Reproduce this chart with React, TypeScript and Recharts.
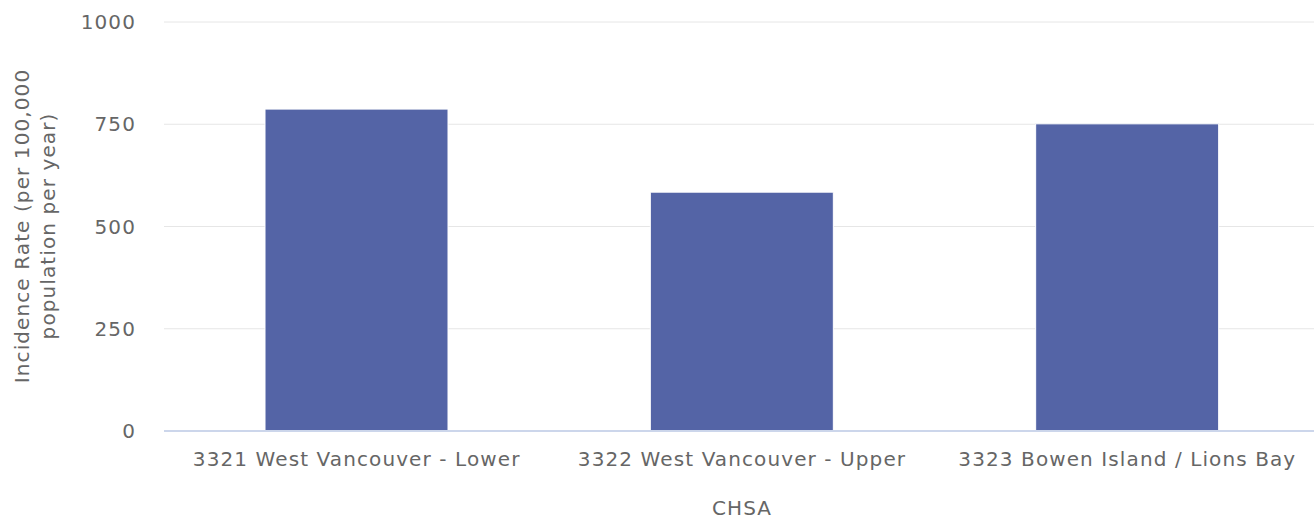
import { BarChart, Bar, XAxis, YAxis, CartesianGrid, Label } from "recharts";

const categories = [
  "3321 West Vancouver - Lower",
  "3322 West Vancouver - Upper",
  "3323 Bowen Island / Lions Bay",
];
const incidenceRates = [787, 584, 751];
const yTicks = [0, 250, 500, 750, 1000];

const chartData = categories.map((name, i) => ({ name, rate: incidenceRates[i] }));

const FONT = "'DejaVu Sans', Verdana, sans-serif";
const TEXT_COLOR = "#666666";

const tickStyle = {
  fill: TEXT_COLOR,
  fontSize: 20,
  fontFamily: FONT,
  letterSpacing: 1.1,
};

const YTitle = () => (
  <g>
    <text
      x={22}
      y={226}
      transform="rotate(-90, 22, 226)"
      textAnchor="middle"
      dominantBaseline="central"
      fill={TEXT_COLOR}
      fontSize={20}
      fontFamily={FONT}
      letterSpacing={1.1}
    >
      Incidence Rate (per 100,000
    </text>
    <text
      x={48}
      y={226}
      transform="rotate(-90, 48, 226)"
      textAnchor="middle"
      dominantBaseline="central"
      fill={TEXT_COLOR}
      fontSize={20}
      fontFamily={FONT}
      letterSpacing={1.1}
    >
      population per year)
    </text>
  </g>
);

const XTitle = () => (
  <text
    x={742}
    y={508}
    textAnchor="middle"
    dominantBaseline="central"
    fill={TEXT_COLOR}
    fontSize={20}
    fontFamily={FONT}
    letterSpacing={1.1}
  >
    CHSA
  </text>
);

export default function App() {
  return (
    <div style={{ width: 1314, height: 523, overflow: "hidden" }}>
      <style>{`body { margin: 0; }`}</style>
      <BarChart
        width={1320}
        height={523}
        data={chartData}
        margin={{ top: 22, right: 0, bottom: 0, left: 0 }}
        barSize={183}
      >
        <CartesianGrid vertical={false} stroke="#e6e6e6" strokeWidth={1} />
        <XAxis
          dataKey="name"
          height={92}
          tickLine={false}
          tickSize={0}
          tickMargin={21}
          axisLine={{ stroke: "#ccd6eb", strokeWidth: 2 }}
          tick={tickStyle}
          interval={0}
        >
          <Label content={<XTitle />} />
        </XAxis>
        <YAxis
          width={164}
          domain={[0, 1000]}
          ticks={yTicks}
          tickLine={false}
          tickSize={0}
          tickMargin={28}
          axisLine={false}
          tick={tickStyle}
        >
          <Label content={<YTitle />} />
        </YAxis>
        <Bar
          dataKey="rate"
          fill="#5464a6"
          stroke="#ffffff"
          strokeWidth={1}
          isAnimationActive={false}
        />
      </BarChart>
    </div>
  );
}
